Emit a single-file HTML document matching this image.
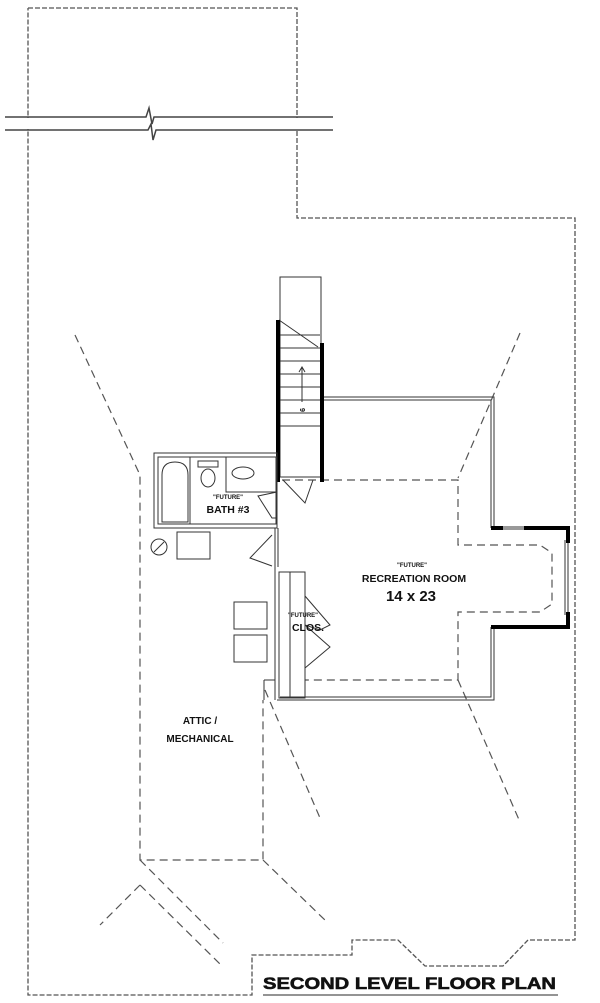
<!DOCTYPE html>
<html><head><style>
html,body{margin:0;padding:0;background:#fff;}
svg{display:block}
text{font-family:"Liberation Sans",sans-serif;font-weight:bold;fill:#111;}
</style></head><body>
<svg width="600" height="1003" viewBox="0 0 600 1003" xmlns="http://www.w3.org/2000/svg">
<g fill="none" stroke="#555" stroke-width="1.3" stroke-dasharray="5,2">
<polyline points="28,8 297,8 297,218 575,218 575,940 528,940 503,966 425,966 398,940 352,940 352,955 252,955 252,995 28,995 28,8"/>
</g>
<rect x="6" y="118" width="327" height="11" fill="#fff"/>
<g stroke="#444" stroke-width="1.5" fill="none">
<polyline points="5,117 146,117 149,108 152,124 154,117 333,117"/>
<polyline points="5,130 148,130 151,124 153,140 156,130 333,130"/>
</g>
<g fill="none" stroke="#555" stroke-width="1.2" stroke-dasharray="8,5">
<polyline points="75,335 140,475 140,860 263,860 263,700"/>
<line x1="263" y1="860" x2="328" y2="923"/>
<line x1="140" y1="860" x2="223" y2="943"/>
<line x1="140" y1="885" x2="223" y2="967"/>
<line x1="140" y1="885" x2="100" y2="925"/>
<line x1="265" y1="690" x2="320" y2="818"/>
<line x1="520" y1="333" x2="458" y2="478"/>
<line x1="458" y1="680" x2="520" y2="822"/>
<polyline points="282,480 458,480 458,545 540,545 552,553 552,604 540,612 458,612 458,680 305,680"/>
</g>
<g fill="none" stroke="#333" stroke-width="1">
<rect x="280" y="277" width="41" height="200"/>
<line x1="279" y1="320" x2="318" y2="347"/>
<line x1="280" y1="335" x2="320" y2="335"/>
<line x1="280" y1="348" x2="320" y2="348"/>
<line x1="280" y1="361" x2="320" y2="361"/>
<line x1="280" y1="374" x2="320" y2="374"/>
<line x1="280" y1="387" x2="320" y2="387"/>
<line x1="280" y1="400" x2="320" y2="400"/>
<line x1="280" y1="413" x2="320" y2="413"/>
<line x1="280" y1="426" x2="320" y2="426"/>
<line x1="302" y1="368" x2="302" y2="402"/>
<polyline points="299,372 302,367 305,372"/>
<polyline points="283,480 305,503 313,480"/>
</g>
<text x="298" y="414" font-size="7" transform="rotate(90 302 412)">9</text>
<rect x="276" y="320" width="4" height="162" fill="#000"/>
<rect x="320" y="343" width="4" height="139" fill="#000"/>
<g fill="none" stroke="#333" stroke-width="1">
<polyline points="324,397 494,397 494,528"/>
<polyline points="324,400 491,400 491,528"/>
<polyline points="494,627 494,700 277,700"/>
<polyline points="491,627 491,697 280,697"/>
<line x1="568" y1="540" x2="568" y2="615"/>
<line x1="565" y1="540" x2="565" y2="615"/>
<line x1="503" y1="527" x2="524" y2="527"/>
<line x1="503" y1="529" x2="524" y2="529"/>
</g>
<g fill="#000">
<rect x="491" y="526" width="12" height="4"/>
<rect x="524" y="526" width="46" height="4"/>
<rect x="566" y="526" width="4" height="17"/>
<rect x="566" y="612" width="4" height="17"/>
<rect x="491" y="625" width="79" height="4"/>
</g>
<g fill="none" stroke="#333" stroke-width="1">
<rect x="154" y="453" width="123" height="75"/>
<rect x="158" y="457" width="118" height="67"/>
<path d="M162,522 V475 Q162,462 175,462 Q188,462 188,475 V522 Z"/>
<rect x="158" y="457" width="32" height="67"/>
<rect x="198" y="461" width="20" height="6"/>
<ellipse cx="208" cy="478" rx="7" ry="9"/>
<rect x="226" y="457" width="50" height="35"/>
<ellipse cx="243" cy="473" rx="11" ry="6"/>
<polyline points="277,492 258,496 272,518 277,518"/>
<line x1="275" y1="528" x2="275" y2="567"/>
<line x1="278" y1="528" x2="278" y2="567"/>
<polyline points="272,535 250,558 272,566"/>
<rect x="177" y="532" width="33" height="27"/>
<circle cx="159" cy="547" r="8"/>
<line x1="154" y1="552" x2="164" y2="542"/>
<rect x="234" y="602" width="33" height="27"/>
<rect x="234" y="635" width="33" height="27"/>
<polyline points="275,567 275,700"/>
<rect x="279" y="572" width="26" height="126"/>
<line x1="290" y1="572" x2="290" y2="698"/>
<polyline points="305,596 330,625 320,630 305,625 330,647 305,668"/>
<line x1="264" y1="680" x2="264" y2="700"/>
<line x1="264" y1="680" x2="275" y2="680"/>
</g>
<text x="228" y="499" font-size="6" text-anchor="middle">"FUTURE"</text>
<text x="228" y="513" font-size="10.5" text-anchor="middle">BATH #3</text>
<text x="303" y="617" font-size="6" text-anchor="middle">"FUTURE"</text>
<text x="308" y="631" font-size="10.5" text-anchor="middle">CLOS.</text>
<text x="412" y="567" font-size="6" text-anchor="middle">"FUTURE"</text>
<text x="414" y="582" font-size="10.5" text-anchor="middle">RECREATION ROOM</text>
<text x="411" y="601" font-size="15" text-anchor="middle">14 x 23</text>
<text x="200" y="724" font-size="10" text-anchor="middle">ATTIC /</text>
<text x="200" y="742" font-size="10" text-anchor="middle">MECHANICAL</text>
<text x="263" y="989" font-size="17" font-weight="900" stroke="#111" stroke-width="0.6" textLength="293" lengthAdjust="spacingAndGlyphs">SECOND LEVEL FLOOR PLAN</text>
<line x1="263" y1="995" x2="558" y2="995" stroke="#555" stroke-width="1.3"/>
</svg>
</body></html>
